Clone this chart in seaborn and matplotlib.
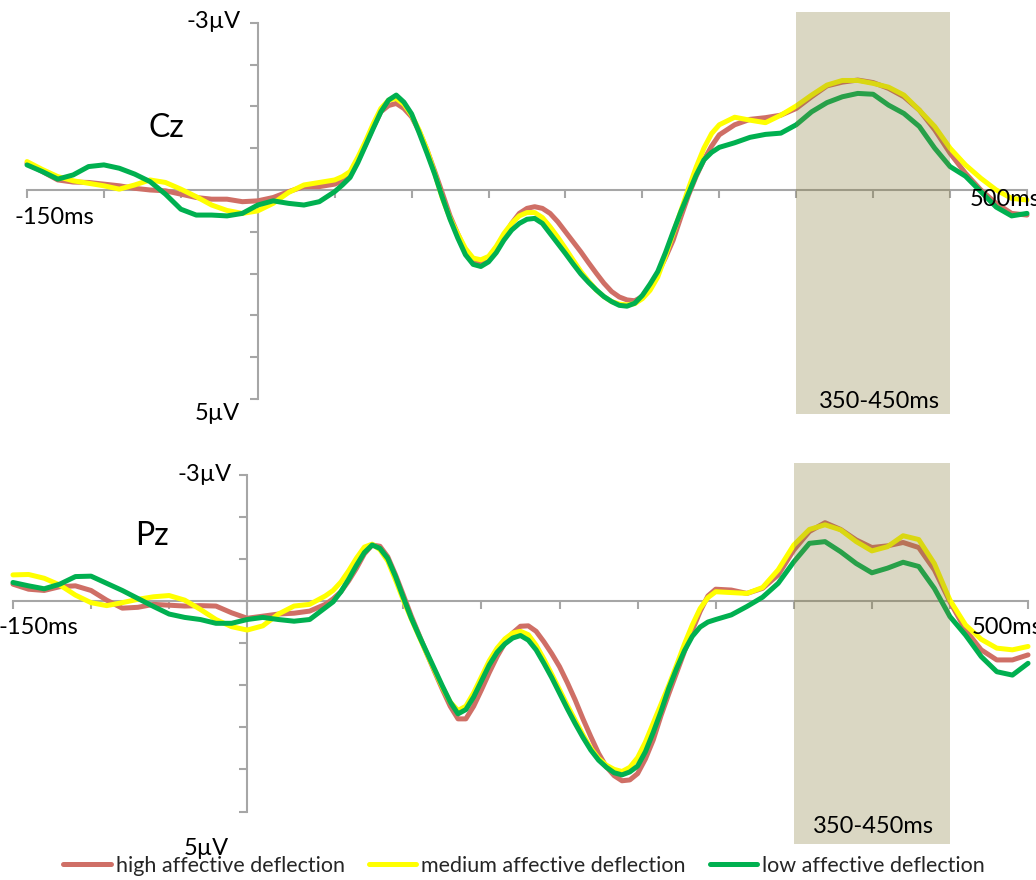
import numpy as np
import pandas as pd
import matplotlib
matplotlib.use("Agg")
import matplotlib.pyplot as plt
from matplotlib.lines import Line2D
import seaborn as sns

# ---------------- data (µV, negative plotted upwards) ----------------
# sampling: 10 ms in the baseline, 5 ms through the main components, 10 ms late
times = list(range(-150, 50, 10)) + list(range(50, 300, 5)) + list(range(300, 501, 10))

conditions = ["high affective deflection", "medium affective deflection", "low affective deflection"]
colors = ["#CF6F66", "#FFFF00", "#00B050"]

cz_high = [-0.64, -0.44, -0.24, -0.19, -0.18, -0.14, -0.10, -0.04, 0.00, 0.02,
           0.10, 0.18, 0.22, 0.22, 0.28, 0.26, 0.18, 0.04, -0.08, -0.08,
           -0.14, -0.22, -0.36, -0.70, -1.08, -1.50, -1.87, -2.02, -2.07, -1.95,
           -1.75, -1.40, -0.96, -0.45, 0.08, 0.62, 1.05, 1.45, 1.71, 1.77,
           1.69, 1.45, 1.12, 0.80, 0.56, 0.44, 0.40, 0.44, 0.56, 0.76,
           1.00, 1.24, 1.48, 1.74, 1.99, 2.23, 2.43, 2.56, 2.63, 2.65,
           2.55, 2.32, 2.00, 1.62, 1.20, 0.65, 0.12, -0.33, -0.72, -1.05,
           -1.32, -1.56, -1.69, -1.73, -1.79, -1.95, -2.23, -2.49, -2.58, -2.63,
           -2.57, -2.43, -2.23, -1.91, -1.44, -0.88, -0.40, 0.00, 0.32, 0.56, 0.60]
cz_medium = [-0.68, -0.49, -0.32, -0.22, -0.16, -0.10, -0.02, -0.12, -0.24, -0.18,
             -0.02, 0.16, 0.36, 0.49, 0.56, 0.50, 0.32, 0.06, -0.12, -0.18,
             -0.24, -0.32, -0.44, -0.78, -1.16, -1.58, -1.95, -2.15, -2.19, -2.05,
             -1.79, -1.42, -0.96, -0.40, 0.20, 0.68, 1.05, 1.40, 1.63, 1.67,
             1.59, 1.35, 1.04, 0.80, 0.62, 0.54, 0.54, 0.66, 0.88, 1.13,
             1.40, 1.68, 1.95, 2.18, 2.39, 2.55, 2.67, 2.73, 2.75, 2.72,
             2.60, 2.40, 2.08, 1.58, 1.04, 0.50, -0.04, -0.55, -1.00, -1.35,
             -1.56, -1.74, -1.67, -1.61, -1.79, -2.01, -2.27, -2.51, -2.62, -2.62,
             -2.55, -2.46, -2.27, -1.91, -1.52, -1.00, -0.60, -0.28, 0.00, 0.20, 0.24]
cz_low = [-0.60, -0.44, -0.26, -0.36, -0.56, -0.60, -0.52, -0.38, -0.20, 0.10,
          0.46, 0.60, 0.60, 0.62, 0.56, 0.36, 0.26, 0.32, 0.36, 0.28,
          0.04, -0.12, -0.30, -0.65, -1.06, -1.47, -1.87, -2.15, -2.27, -2.10,
          -1.82, -1.36, -0.88, -0.38, 0.18, 0.70, 1.15, 1.55, 1.78, 1.83,
          1.72, 1.50, 1.20, 0.96, 0.80, 0.70, 0.68, 0.80, 1.04, 1.28,
          1.52, 1.77, 2.01, 2.21, 2.39, 2.55, 2.67, 2.76, 2.78, 2.71,
          2.52, 2.25, 1.95, 1.50, 1.00, 0.52, 0.08, -0.36, -0.72, -0.90,
          -1.02, -1.13, -1.26, -1.33, -1.36, -1.56, -1.87, -2.09, -2.23, -2.31,
          -2.29, -2.03, -1.83, -1.52, -1.00, -0.56, -0.33, 0.04, 0.41, 0.62, 0.56]

pz_high = [-0.40, -0.28, -0.25, -0.34, -0.36, -0.25, -0.02, 0.17, 0.15, 0.08,
           0.10, 0.12, 0.11, 0.12, 0.28, 0.41, 0.36, 0.31, 0.29, 0.24,
           0.08, -0.05, -0.22, -0.48, -0.78, -1.12, -1.33, -1.30, -1.05, -0.62,
           -0.14, 0.35, 0.80, 1.25, 1.68, 2.10, 2.50, 2.80, 2.80, 2.50,
           2.11, 1.70, 1.32, 1.00, 0.76, 0.60, 0.59, 0.72, 0.97, 1.25,
           1.56, 1.94, 2.35, 2.80, 3.22, 3.62, 3.94, 4.15, 4.27, 4.25,
           4.10, 3.75, 3.30, 2.72, 2.20, 1.70, 1.20, 0.70, 0.25, -0.12,
           -0.28, -0.26, -0.18, -0.30, -0.62, -1.21, -1.65, -1.86, -1.70, -1.45,
           -1.27, -1.31, -1.39, -1.27, -0.74, 0.02, 0.69, 1.16, 1.40, 1.40, 1.28]
pz_medium = [-0.62, -0.63, -0.54, -0.38, -0.14, 0.04, 0.11, 0.04, -0.04, -0.10,
             -0.13, -0.02, 0.20, 0.44, 0.61, 0.69, 0.59, 0.31, 0.12, 0.08,
             -0.12, -0.25, -0.45, -0.72, -1.02, -1.28, -1.35, -1.22, -0.95, -0.50,
             -0.02, 0.42, 0.84, 1.25, 1.65, 2.05, 2.40, 2.60, 2.50, 2.18,
             1.80, 1.42, 1.12, 0.90, 0.76, 0.72, 0.80, 1.05, 1.38, 1.74,
             2.11, 2.48, 2.83, 3.18, 3.50, 3.74, 3.90, 4.00, 4.05, 3.95,
             3.72, 3.35, 2.90, 2.45, 2.00, 1.52, 1.02, 0.57, 0.18, -0.08,
             -0.22, -0.20, -0.18, -0.32, -0.74, -1.33, -1.70, -1.81, -1.69, -1.41,
             -1.19, -1.29, -1.55, -1.46, -0.89, -0.02, 0.57, 0.91, 1.12, 1.16, 1.08]
pz_low = [-0.44, -0.36, -0.29, -0.40, -0.58, -0.59, -0.42, -0.25, -0.06, 0.13,
          0.31, 0.39, 0.44, 0.53, 0.53, 0.44, 0.39, 0.44, 0.48, 0.44,
          0.16, 0.02, -0.22, -0.52, -0.85, -1.15, -1.33, -1.25, -1.01, -0.58,
          -0.08, 0.40, 0.82, 1.22, 1.62, 2.02, 2.40, 2.68, 2.58, 2.28,
          1.90, 1.52, 1.22, 1.02, 0.88, 0.82, 0.93, 1.16, 1.48, 1.82,
          2.19, 2.56, 2.91, 3.24, 3.54, 3.78, 3.95, 4.08, 4.13, 4.06,
          3.92, 3.58, 3.12, 2.62, 2.07, 1.60, 1.18, 0.84, 0.62, 0.50,
          0.44, 0.33, 0.13, -0.09, -0.42, -0.93, -1.37, -1.41, -1.17, -0.89,
          -0.67, -0.78, -0.92, -0.82, -0.30, 0.37, 0.81, 1.32, 1.68, 1.76, 1.48]

window = (350, 450)

for s in (cz_high, cz_medium, cz_low, pz_high, pz_medium, pz_low):
    assert len(s) == len(times), (len(s), len(times))

# ---------------- styling ----------------
sns.set_theme(style="white")
plt.rcParams["font.family"] = ["Lato", "DejaVu Sans"]

W, H = 1036, 880
fig = plt.figure(figsize=(W / 100, H / 100), dpi=100)
AXIS_GRAY = "#A6A6A6"
SHADE = "#877D3A"


def long_df(series):
    frames = []
    for cond, vals in zip(conditions, series):
        frames.append(pd.DataFrame({"time": times, "amp": vals, "condition": cond}))
    return pd.concat(frames, ignore_index=True)


def panel(rect, xlim, ylim, ybounds, shade_y, series):
    ax = fig.add_axes(rect)
    df = long_df(series)
    sns.lineplot(data=df, x="time", y="amp", hue="condition", hue_order=conditions,
                 palette=colors, linewidth=3.6, legend=False, ax=ax, zorder=3,
                 solid_joinstyle="round", solid_capstyle="round")
    ax.set_xlim(*xlim)
    ax.set_ylim(*ylim)
    ax.patch.set_alpha(0)
    for s in ["top", "right"]:
        ax.spines[s].set_visible(False)
    ax.spines["left"].set_position(("data", 0))
    ax.spines["bottom"].set_position(("data", 0))
    ax.spines["left"].set_bounds(*ybounds)
    ax.spines["bottom"].set_bounds(-150, 500)
    for s in ["left", "bottom"]:
        ax.spines[s].set_color(AXIS_GRAY)
        ax.spines[s].set_linewidth(1.5)
        ax.spines[s].set_zorder(1)
    ax.set_xticks(range(-150, 501, 50))
    ax.set_yticks(range(ybounds[0], ybounds[1] + 1))
    ax.tick_params(axis="both", direction="out", length=5.5, width=1.5,
                   color=AXIS_GRAY, labelbottom=False, labelleft=False,
                   bottom=True, left=True)
    ax.set_xlabel("")
    ax.set_ylabel("")
    ax.fill_between(list(window), shade_y[0], shade_y[1], color=SHADE,
                    alpha=0.3, linewidth=0, zorder=5)
    return ax


# Cz panel (top)
panel([0, 1 - 430 / H, 1, 430 / H], (-167.55, 505.85), (5.742, -4.545), (-4, 5),
      (-4.26, 5.36), [cz_high, cz_medium, cz_low])
# Pz panel (bottom)
panel([0, 0, 1, 440 / H], (-158.3, 505.1), (6.627, -3.824), (-3, 5),
      (-3.28, 5.77), [pz_high, pz_medium, pz_low])


def ftext(x, y, s, size=17, ha="center", va="center", **kw):
    fig.text(x / W, 1 - y / H, s, fontsize=size, ha=ha, va=va, color="black", zorder=10, **kw)


# Cz labels
ftext(166, 128, "Cz", size=23)
ftext(241, 22, "-3\u00b5V", ha="right")
ftext(240, 413, "5\u00b5V", ha="right")
ftext(54, 217, "-150ms")
ftext(970, 199, "500ms", ha="left")
ftext(879, 402, "350-450ms")

# Pz labels
ftext(152, 536, "Pz", size=23)
ftext(232, 474, "-3\u00b5V", ha="right")
ftext(206, 848, "5\u00b5V")
ftext(38, 627, "-150ms")
ftext(972, 628, "500ms", ha="left")
ftext(873, 826, "350-450ms")

handles = [Line2D([0], [0], color=c, lw=3.6, solid_capstyle="round") for c in colors]
fig.legend(handles, conditions, loc="center", bbox_to_anchor=(0.506, 1 - 866 / H),
           ncol=3, frameon=False, fontsize=15.5, handlelength=2.2, handletextpad=0.25,
           columnspacing=1.1, borderpad=0, borderaxespad=0)

fig.savefig("out.png", dpi=100)
